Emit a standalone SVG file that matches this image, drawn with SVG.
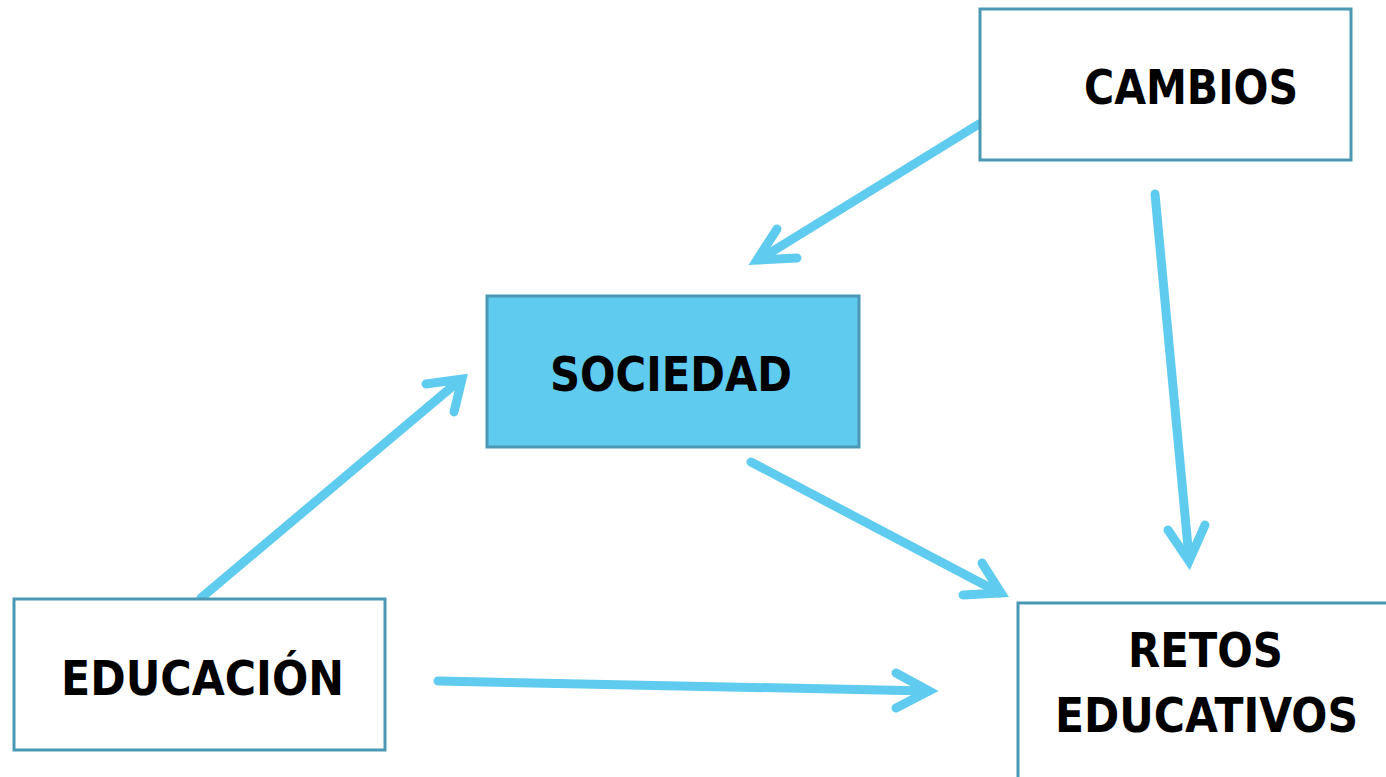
<svg xmlns="http://www.w3.org/2000/svg" width="1386" height="777" viewBox="0 0 1386 777">
<style>
.box{fill:#ffffff;stroke:#4a98b3;stroke-width:3}
.fill{fill:#5fcbef}
.t{font-family:"DejaVu Sans",sans-serif;font-weight:bold;font-size:48px;fill:#000}
.c{fill:none;stroke:#5fcbef;stroke-width:9;stroke-linecap:round}
.h{fill:none;stroke:#5fcbef;stroke-width:9;stroke-linecap:round;stroke-linejoin:miter;stroke-miterlimit:10}
</style>
<rect width="1386" height="777" fill="#ffffff"/>
<g id="connectors">
<line class="c" x1="979" y1="124" x2="760" y2="259"/>
<polyline class="h" points="777,229 757,260 797,258"/>
<line class="c" x1="1155" y1="194" x2="1189" y2="558"/>
<polyline class="h" points="1168,530 1189,561 1205,525"/>
<line class="c" x1="751" y1="462" x2="1000" y2="593"/>
<polyline class="h" points="982,563 1001,593 963,595"/>
<line class="c" x1="201" y1="598" x2="460" y2="380"/>
<polyline class="h" points="426,384 462,379 454,412"/>
<line class="c" x1="438" y1="681" x2="928" y2="691"/>
<polyline class="h" points="896,673 929,691 896,708"/>
</g>
<g id="cambios">
<rect class="box" x="980" y="9" width="371" height="151"/>
<text class="t" x="1084" y="104" textLength="214" lengthAdjust="spacingAndGlyphs">CAMBIOS</text>
</g>
<g id="sociedad">
<rect class="box fill" x="487" y="296" width="372" height="151"/>
<text class="t" x="550" y="391" textLength="242" lengthAdjust="spacingAndGlyphs">SOCIEDAD</text>
</g>
<g id="educacion">
<rect class="box" x="14" y="599" width="371" height="151"/>
<text class="t" x="61" y="695" textLength="283" lengthAdjust="spacingAndGlyphs">EDUCACIÓN</text>
</g>
<g id="retos">
<rect class="box" x="1018" y="603" width="380" height="190"/>
<text class="t" x="1128" y="667" textLength="155" lengthAdjust="spacingAndGlyphs">RETOS</text>
<text class="t" x="1055" y="732" textLength="303" lengthAdjust="spacingAndGlyphs">EDUCATIVOS</text>
</g>
</svg>
